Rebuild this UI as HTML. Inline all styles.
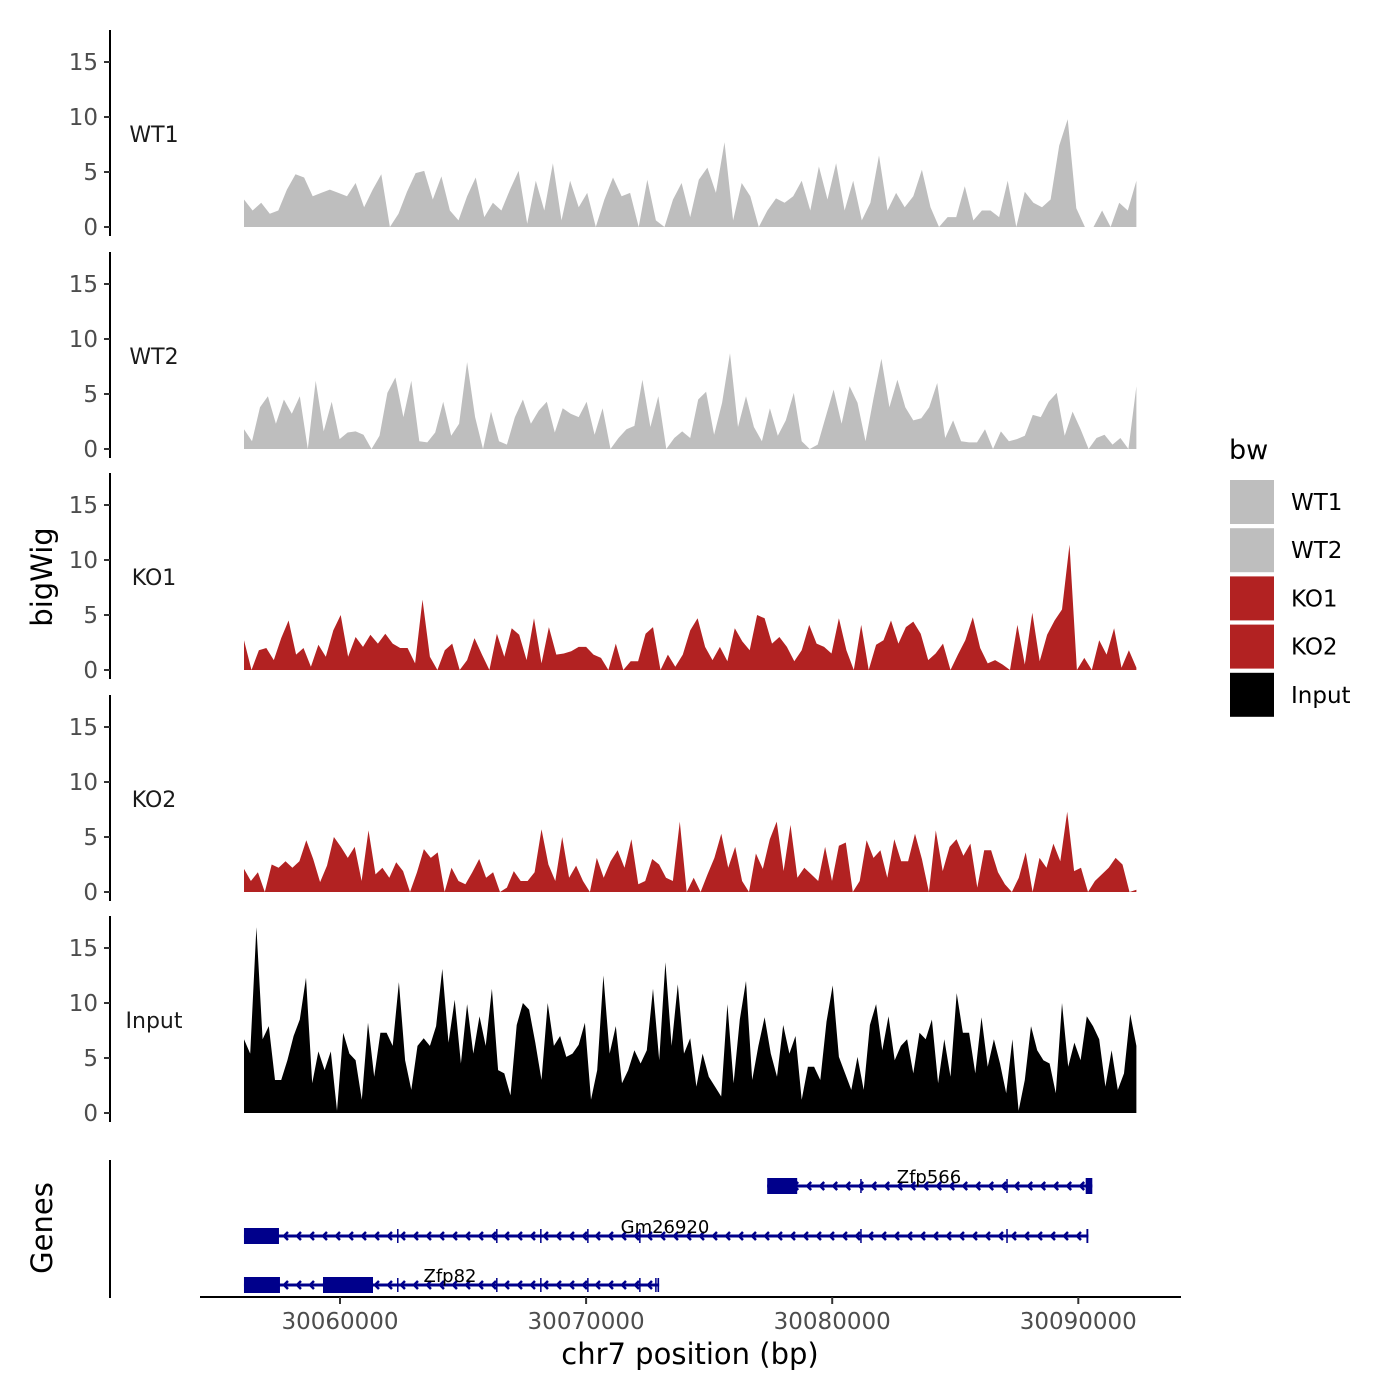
<!DOCTYPE html>
<html><head><meta charset="utf-8"><style>
html,body{margin:0;padding:0;background:#fff}
svg{display:block;font-family:"DejaVu Sans","Liberation Sans",sans-serif}
</style></head><body>
<svg id="chart" width="1400" height="1400" viewBox="0 0 1400 1400" xmlns="http://www.w3.org/2000/svg"></svg>
<script>
const trackNames = ["WT1","WT2","KO1","KO2","Input"];
const trackColors = ["#bebebe","#bebebe","#b22222","#b22222","#000000"];
const yTicks = [0,5,10,15];
const xTicks = [30060000,30070000,30080000,30090000];
const regionStart = 30056100, regionEnd = 30092360;

const wt1 = [2.5,1.5,2.2,1.2,1.5,3.4,4.8,4.5,2.8,3.1,3.4,3.1,2.8,4,1.8,3.4,4.8,0,1.2,3.2,4.9,5.1,2.5,4.6,1.5,0.6,2.8,4.5,0.9,2.2,1.5,3.4,5.1,0.3,4.2,1.5,5.8,0.6,4.2,1.8,3.1,0,2.5,4.5,2.8,3.1,0,4.3,0.6,0,2.5,4,0.9,4.3,5.4,3.1,7.7,0.6,4,2.8,0,1.5,2.6,2.2,2.8,4.2,1.5,5.5,2.5,5.8,1.5,4.2,0.6,2.2,6.5,1.5,3.1,1.8,2.8,5.2,1.8,0,0.9,0.9,3.7,0.6,1.5,1.5,0.9,4.2,0,3.2,2.2,1.8,2.5,7.4,9.8,1.7,0,0,1.5,0,2.2,1.5,4.2];
const wt2 = [1.8,0.7,3.8,4.8,2.3,4.5,3.2,4.8,0,6.2,1.6,4.3,0.9,1.5,1.6,1.3,0,1.2,5.1,6.5,2.9,6.2,0.7,0.6,1.5,4.3,1.2,2.3,7.9,2.9,0,3.4,0.7,0.4,2.9,4.5,2.3,3.5,4.3,1.5,3.7,3.2,2.9,4.3,1.3,3.7,0,1,1.8,2.1,6.3,2,4.8,0,1,1.6,1,4.5,5.2,1.3,4.2,8.7,2,4.8,2,0.7,3.7,1.2,2.6,5.1,0.7,0,0.4,2.9,5.4,2.3,5.7,4.2,0.7,4.6,8.2,3.8,6.3,3.8,2.6,2.8,3.8,6,1,2.6,0.7,0.6,0.6,1.8,0,1.6,0.7,0.9,1.2,3.1,2.9,4.3,5.1,1.2,3.4,1.8,0,1,1.3,0.4,1,0,5.7];
const ko1 = [2.7,0,1.8,2,0.9,2.9,4.5,1.4,2,0.3,2.3,1.2,3.6,5,1.2,3,2.1,3.2,2.4,3.3,2.4,2,2,0.6,6.4,1.2,0,1.8,2.4,0,0.9,2.9,1.4,0,3.3,1.2,3.8,3.2,0.9,4.7,0.6,3.9,1.4,1.5,1.7,2.1,2.1,1.4,1.1,0,2.4,0,0.8,0.8,3.3,3.9,0,1.4,0.3,1.4,3.6,4.7,2.1,0.9,2.1,0.8,3.8,2.6,1.8,5,4.7,2.4,3,2.1,0.8,1.8,4.1,2.4,2.1,1.5,4.7,1.8,0,4.1,0,2.3,2.7,4.5,2.4,3.9,4.4,3.3,0.9,1.5,2.4,0,1.4,2.7,4.8,2,0.6,0.9,0.5,0,4.1,0.5,5.2,0.8,3.2,4.5,5.5,11.4,0,1.1,0,2.7,1.4,3.8,0.2,1.8,0.2];
const ko2 = [2.1,1,1.8,0,2.5,2.2,2.8,2.2,2.8,4.7,3,0.9,2.4,5,4.1,3.1,4.1,1,5.6,1.6,2.2,1.3,2.7,1.9,0,1.8,3.9,3.1,3.6,0,2.2,1,0.7,1.8,3,1.3,1.8,0,0.4,1.9,1,1,1.8,5.7,2.5,1,5,1.3,2.4,1,0,3.1,1.3,2.8,3.8,2.2,4.8,0.7,1,3,2.5,1.3,1,6.4,0,1.3,0,1.6,3.1,5.3,2.2,4.1,1,0,3.5,2.1,4.8,6.4,1.9,6.1,1.3,2.2,1.6,1,4.1,1,4.2,4.5,0,1,4.7,3.1,3.8,1.3,4.8,2.8,2.8,5.3,3,0,5.6,1.9,4.1,4.8,3.3,4.4,0.4,3.8,3.8,1.8,0.7,0,1.3,3.6,0,3.1,2.2,4.4,2.8,7.3,1.9,2.2,0,1,1.6,2.2,3.1,2.5,0,0.2];
const input = [6.7,5.4,16.9,6.7,7.9,3,3,4.8,7,8.5,12.3,2.7,5.6,3.9,5.6,0.2,7.3,5.4,4.8,1.2,8.2,3.3,7.3,7.3,6.1,11.9,4.8,2.1,6.1,6.8,6.1,7.9,13.1,6.4,10.3,4.5,9.9,5.4,8.8,6.1,11.3,3.9,3.6,1.6,8,10,9.4,6.4,3,10,6.1,7,5.1,5.4,6.2,8.2,1.2,3.9,12.5,5.4,7.9,2.7,3.9,5.7,4.5,5.7,11.3,4.8,13.7,6.1,11.7,5.4,6.8,2.4,5.4,3.3,2.4,1.5,9.9,2.7,8.5,12,3,6.1,8.7,5.4,3.3,8,5.4,7,1.2,4.2,4.2,3,8.3,11.6,5.1,3.6,2.1,5.1,2.1,8,9.9,5.7,8.8,4.8,6.1,6.7,3.6,7.3,6.7,8.5,2.7,6.7,3.3,10.9,7.3,7.3,3.6,8.7,4.2,6.7,4.5,1.8,6.7,0.2,3,7.9,5.7,4.8,4.5,1.8,10,4.2,6.4,4.8,8.8,7.9,6.7,2.4,5.7,2.1,3.6,9,6.1];
const trackValues = [wt1,wt2,ko1,ko2,input];

const geneNames = ["Zfp566","Gm26920","Zfp82"];
const geneStarts = [30077358,30056098,30056098];
const geneEnds = [30090569,30090407,30072967];
const geneExonStarts = [[30077358,30081138,30087073,30090300],[30056098,30062317,30066341,30068130,30070041,30072154,30081138,30087073,30090330],[30056098,30059309,30062317,30066341,30068130,30070041,30072154,30072805,30072900]];
const geneExonEnds = [[30078577,30081180,30087110,30090569],[30057520,30062350,30066380,30068160,30070080,30072190,30081180,30087110,30090407],[30057561,30061341,30062350,30066380,30068160,30070080,30072190,30072840,30072967]];

const NS="http://www.w3.org/2000/svg";
const svg=document.getElementById('chart');
function mk(tag,attrs,parent){const e=document.createElementNS(NS,tag);for(const k in attrs)e.setAttribute(k,attrs[k]);(parent||svg).appendChild(e);return e;}
function xScale(bp){return 340+(bp-30060000)*0.02461;}
const baselines=[227,449,670,892,1113];
const unit=11;
function yScale(v,i){return baselines[i]-v*unit;}

trackNames.forEach((name,i)=>{
  const g=mk('g',{});
  
  
  const vals=trackValues[i];
  const n=vals.length;
  let d='M'+xScale(regionStart)+','+yScale(0,i);
  vals.forEach((v,j)=>{const bp=regionStart+(regionEnd-regionStart)*j/(n-1);d+=' L'+xScale(bp).toFixed(1)+','+yScale(v,i).toFixed(1);});
  d+=' L'+xScale(regionEnd)+','+yScale(0,i)+' Z';
  const p=mk('path',{d:d,fill:trackColors[i]},g);
  
  
  const ax=mk('line',{x1:110,x2:110,y1:baselines[i]-197,y2:baselines[i]+9,stroke:'#000','stroke-width':2},g);
  
  
  yTicks.forEach(t=>{
    const y=yScale(t,i);
    mk('line',{x1:104,x2:110,y1:y,y2:y,stroke:'#333','stroke-width':2},g);
    const tx=mk('text',{x:98,y:y+8,'text-anchor':'end','font-size':23,fill:'#4d4d4d'},g);
    tx.textContent=t;
    
    
  });
  const lb=mk('text',{x:154,y:baselines[i]-85,'text-anchor':'middle','font-size':22,fill:'#1a1a1a'},g);
  lb.textContent=name;
  
  
});

const yt=mk('text',{x:0,y:0,transform:'translate(52,577) rotate(-90)','text-anchor':'middle','font-size':29,fill:'#000'});
yt.textContent='bigWig';


const gt=mk('text',{x:0,y:0,transform:'translate(52,1228) rotate(-90)','text-anchor':'middle','font-size':29,fill:'#000'});
gt.textContent='Genes';



const geneRowY=[1186,1236,1285];
const labelX=[929,665,450];
const blue='#00008b';
geneNames.forEach((gn,i)=>{
  const g=mk('g',{});
  
  
  const y=geneRowY[i];
  const x1=xScale(geneStarts[i]),x2=xScale(geneEnds[i]);
  mk('line',{x1:x1,x2:x2,y1:y,y2:y,stroke:blue,'stroke-width':3},g);
  for(let x=x1+14;x<x2-4;x+=13){
    mk('polyline',{points:(x+4)+','+(y-4)+' '+x+','+y+' '+(x+4)+','+(y+4),fill:'none',stroke:blue,'stroke-width':2.5},g);
  }
  geneExonStarts[i].forEach((s,k)=>{
    const xs=xScale(s),xe=xScale(geneExonEnds[i][k]);
    const w=Math.max(xe-xs,1.5);
    const h=w>5?16:14;
    const r=mk('rect',{x:xs,y:y-h/2,width:w,height:h,fill:blue},g);
    
    
  });
  const t=mk('text',{x:labelX[i],y:y-3,'text-anchor':'middle','font-size':18,fill:'#000'},g);
  t.textContent=gn;
  
  
});
const gax=mk('line',{x1:110,x2:110,y1:1160,y2:1298,stroke:'#000','stroke-width':2});



const xa=mk('line',{x1:200,x2:1181,y1:1297,y2:1297,stroke:'#000','stroke-width':2});


xTicks.forEach(t=>{
  const x=xScale(t);
  mk('line',{x1:x,x2:x,y1:1297,y2:1304,stroke:'#333','stroke-width':2});
  const tx=mk('text',{x:x,y:1329,'text-anchor':'middle','font-size':23,fill:'#4d4d4d'});
  tx.textContent=t;
  
  
});
const xt=mk('text',{x:690,y:1364,'text-anchor':'middle','font-size':29,fill:'#000'});
xt.textContent='chr7 position (bp)';



const lg=mk('g',{});


const ltitle=mk('text',{x:1229,y:459,'font-size':27,fill:'#000'},lg);
ltitle.textContent='bw';


trackNames.forEach((name,i)=>{
  const y=480+i*48.2;
  const r=mk('rect',{x:1230,y:y,width:44,height:44,fill:trackColors[i]},lg);
  
  
  const t=mk('text',{x:1291,y:y+30,'font-size':23,fill:'#000'},lg);
  t.textContent=name;
  
  
});
</script>
</body></html>
